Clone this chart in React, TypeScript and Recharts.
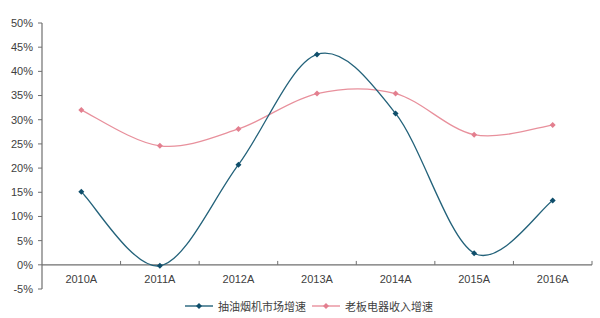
import { LineChart, Line, XAxis, YAxis, ReferenceLine } from 'recharts'

const categories = ['2010A', '2011A', '2012A', '2013A', '2014A', '2015A', '2016A']
const hoodMarket = [15.1, -0.2, 20.7, 43.5, 31.3, 2.4, 13.3]
const robamRevenue = [32.0, 24.6, 28.1, 35.4, 35.4, 26.9, 28.9]
const yTicks = [-5, 0, 5, 10, 15, 20, 25, 30, 35, 40, 45, 50]
const seriesNames = ['抽油烟机市场增速', '老板电器收入增速']

const BLUE = '#23627a'
const BLUE_DOT = '#0f4e6b'
const PINK = '#e8909c'
const PINK_DOT = '#e37f8f'
const AXIS = '#6f6f6f'
const FONT = '"Liberation Sans", Arial, sans-serif'

const data = categories.map((c, i) => ({
  name: c,
  hood: hoodMarket[i],
  robam: robamRevenue[i],
}))

// excel-like smoothing (catmull-rom as bezier)
const smooth = (context: any) => {
  let xs: number[] = []
  let ys: number[] = []
  return {
    areaStart() {},
    areaEnd() {},
    lineStart() {
      xs = []
      ys = []
    },
    point(x: number, y: number) {
      xs.push(+x)
      ys.push(+y)
    },
    lineEnd() {
      const n = xs.length
      if (!n) return
      context.moveTo(xs[0], ys[0])
      for (let i = 0; i < n - 1; i++) {
        const px = xs[Math.max(i - 1, 0)]
        const py = ys[Math.max(i - 1, 0)]
        const nx = xs[Math.min(i + 2, n - 1)]
        const ny = ys[Math.min(i + 2, n - 1)]
        context.bezierCurveTo(
          xs[i] + (xs[i + 1] - px) / 6,
          ys[i] + (ys[i + 1] - py) / 6,
          xs[i + 1] - (nx - xs[i]) / 6,
          ys[i + 1] - (ny - ys[i]) / 6,
          xs[i + 1],
          ys[i + 1],
        )
      }
    },
  }
}

const Diamond = ({ cx, cy, fill }: any) => {
  if (cx == null || cy == null) return null
  const r = 3
  return (
    <path
      d={`M${cx},${cy - r}L${cx + r},${cy}L${cx},${cy + r}L${cx - r},${cy}Z`}
      fill={fill}
    />
  )
}

const XTick = ({ x, y, payload }: any) => (
  <text
    x={x}
    y={y}
    dy={-6}
    textAnchor="middle"
    fontSize={11}
    fontFamily={FONT}
    fill="#404040"
  >
    {payload.value}
  </text>
)

const LegendItem = ({ color, dot, label }: any) => (
  <div style={{ display: 'flex', alignItems: 'center', marginRight: 6 }}>
    <svg width={28} height={8} style={{ marginRight: 5 }}>
      <line x1={0} y1={4} x2={28} y2={4} stroke={color} strokeWidth={1.4} />
      <path d="M14,1L17,4L14,7L11,4Z" fill={dot} />
    </svg>
    <span>{label}</span>
  </div>
)

export default function App() {
  return (
    <div style={{ position: 'absolute', left: 0, top: 0, width: 600, height: 318, background: '#fff' }}>
      <LineChart
        width={600}
        height={318}
        data={data}
        margin={{ top: 23, right: 8, left: 0, bottom: 0 }}
      >
        <XAxis
          dataKey="name"
          scale="band"
          height={29}
          axisLine={false}
          tickLine={false}
          tickSize={0}
          tickMargin={0}
          tick={<XTick />}
          interval={0}
        />
        <YAxis
          width={42}
          domain={[-5, 50]}
          ticks={yTicks}
          interval={0}
          tickFormatter={(v) => `${v}%`}
          axisLine={{ stroke: AXIS, strokeWidth: 1.2 }}
          tickLine={{ stroke: AXIS }}
          tickSize={4}
          tickMargin={5}
          tick={{ fontSize: 11, fontFamily: FONT, fill: '#404040' }}
        />
        <ReferenceLine y={0} stroke={AXIS} strokeWidth={1.2} />
        {categories.slice(1).map((c) => (
          <ReferenceLine
            key={c}
            position="start"
            segment={[
              { x: c, y: 0 },
              { x: c, y: 0.8 },
            ]}
            stroke={AXIS}
          />
        ))}
        <ReferenceLine
          position="end"
          segment={[
            { x: categories[categories.length - 1], y: 0 },
            { x: categories[categories.length - 1], y: 0.8 },
          ]}
          stroke={AXIS}
        />
        <Line
          dataKey="robam"
          type={smooth as any}
          stroke={PINK}
          strokeWidth={1.3}
          dot={<Diamond fill={PINK_DOT} />}
          activeDot={false}
          isAnimationActive={false}
        />
        <Line
          dataKey="hood"
          type={smooth as any}
          stroke={BLUE}
          strokeWidth={1.3}
          dot={<Diamond fill={BLUE_DOT} />}
          activeDot={false}
          isAnimationActive={false}
        />
      </LineChart>
      <div
        style={{
          position: 'absolute',
          left: 185,
          top: 299,
          display: 'flex',
          fontSize: 11,
          color: '#404040',
          fontFamily: '"Noto Sans CJK SC", sans-serif',
          lineHeight: '14px',
        }}
      >
        <LegendItem color={BLUE} dot={BLUE_DOT} label={seriesNames[0]} />
        <LegendItem color={PINK} dot={PINK_DOT} label={seriesNames[1]} />
      </div>
    </div>
  )
}
